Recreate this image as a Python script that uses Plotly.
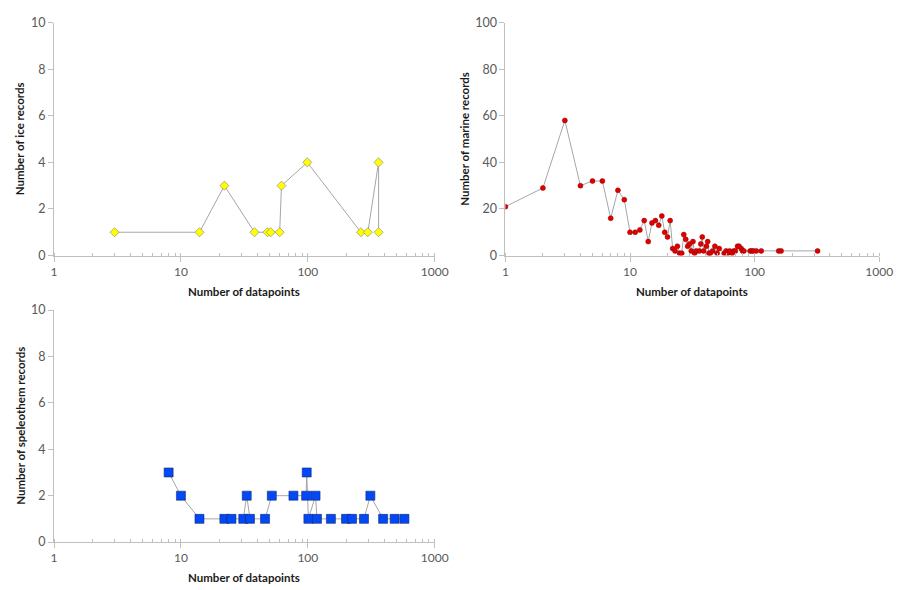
import plotly.graph_objects as go

# ---- data ----
ice_x = [3, 14, 22, 38, 48, 51, 60, 62, 99, 262, 297, 361, 361]
ice_y = [1, 1, 3, 1, 1, 1, 1, 3, 4, 1, 1, 4, 1]

marine_x = [1, 2, 3, 4, 5, 6, 7, 8, 9, 10, 11, 12, 13, 14, 15, 16, 17, 18, 19, 20,
            21, 22, 23, 24, 25, 26, 27, 28, 29, 30, 31, 32, 33, 34, 36, 37, 38, 39,
            41, 42, 43, 44, 46, 48, 50, 52, 57, 59, 61, 63, 66, 68, 70, 73, 75, 78,
            80, 82, 92, 95, 98, 103, 113, 156, 163, 320]
marine_y = [21, 29, 58, 30, 32, 32, 16, 28, 24, 10, 10, 11, 15, 6, 14, 15, 13, 17, 10, 8,
            15, 3, 2, 4, 1, 1, 9, 7, 4, 5, 2, 6, 1, 2, 2, 5, 8, 2,
            4, 6, 1, 1, 2, 4, 1, 3, 1, 2, 1, 2, 1, 2, 2, 4, 4, 3,
            2, 2, 2, 2, 2, 2, 2, 2, 2, 2]

speleo_x = [8, 10, 14, 22, 25, 31, 33, 35, 46, 52, 77, 97, 98, 101, 115, 118, 152,
            200, 223, 277, 311, 392, 483, 577]
speleo_y = [3, 2, 1, 1, 1, 1, 2, 1, 1, 2, 2, 2, 3, 1, 2, 1, 1,
            1, 1, 1, 2, 1, 1, 1]

x_ticks = [1, 10, 100, 1000]
x_title = "Number of datapoints"
y_titles = ["Number of ice records", "Number of marine records", "Number of speleothem records"]

W, H = 906, 590
FONT = "Lato"
LINE = "#a6a6a6"
AXIS = "#bfbfbf"
TICKC = "#595959"

def px_x(a, b):
    return [a / W, b / W]

def px_y(top, bottom):
    return [1 - bottom / H, 1 - top / H]

fig = go.Figure()

fig.add_trace(go.Scatter(x=ice_x, y=ice_y, mode="lines+markers", xaxis="x", yaxis="y",
                         line=dict(color=LINE, width=1),
                         marker=dict(symbol="diamond", size=7, color="#ffff00",
                                     line=dict(color="#808080", width=0.6)),
                         showlegend=False))
fig.add_trace(go.Scatter(x=marine_x, y=marine_y, mode="lines+markers", xaxis="x2", yaxis="y2",
                         line=dict(color=LINE, width=1),
                         marker=dict(symbol="circle", size=5, color="#e00000",
                                     line=dict(color="#900000", width=0.5)),
                         showlegend=False))
fig.add_trace(go.Scatter(x=speleo_x, y=speleo_y, mode="lines+markers", xaxis="x3", yaxis="y3",
                         line=dict(color=LINE, width=1),
                         marker=dict(symbol="square", size=9, color="#0048f8",
                                     line=dict(color="#1a2a6a", width=0.6)),
                         showlegend=False))

def xaxis(domain, anchor):
    return dict(type="log", range=[0, 3], domain=domain, anchor=anchor,
                tickvals=x_ticks, ticktext=[str(v) for v in x_ticks],
                ticks="outside", ticklen=5, tickcolor=AXIS,
                minor=dict(ticks="inside", ticklen=3, tickcolor=AXIS, dtick="D1", showgrid=False),
                showline=True, linecolor=AXIS, linewidth=1, showgrid=False, zeroline=False,
                tickfont=dict(family=FONT, size=12, color=TICKC), fixedrange=True)

def yaxis(domain, anchor, rmax, dt):
    return dict(range=[0, rmax], domain=domain, anchor=anchor, dtick=dt,
                ticks="outside", ticklen=5, tickcolor=AXIS,
                showline=True, linecolor=AXIS, linewidth=1, showgrid=False, zeroline=False,
                tickfont=dict(family=FONT, size=12.5, color=TICKC), fixedrange=True)

dx1 = px_x(52, 440)
dx2 = px_x(512, 893)
dy1 = px_y(15, 254)
dy3 = px_y(310, 548)

fig.update_layout(
    width=W, height=H, margin=dict(l=0, r=0, t=0, b=0),
    paper_bgcolor="white", plot_bgcolor="white",
    xaxis=xaxis(dx1, "y"), yaxis=yaxis(dy1, "x", 10, 2),
    xaxis2=xaxis(dx2, "y2"), yaxis2=yaxis(dy1, "x2", 100, 20),
    xaxis3=xaxis(dx1, "y3"), yaxis3=yaxis(dy3, "x3", 10, 2),
)

tfont = dict(family=FONT, size=11.5, color="#1a1a1a")
ann = []
# x titles
for cx, cy in [(246, 291), (702, 291), (246, 584)]:
    ann.append(dict(text="<b>" + x_title + "</b>", x=cx / W, y=1 - cy / H, xref="paper", yref="paper",
                    showarrow=False, xanchor="center", yanchor="middle", font=tfont))
# y titles
for t, cx, cy in [(y_titles[0], 17, 134), (y_titles[1], 470, 134), (y_titles[2], 17, 429)]:
    ann.append(dict(text="<b>" + t + "</b>", x=cx / W, y=1 - cy / H, xref="paper", yref="paper",
                    showarrow=False, xanchor="center", yanchor="middle", textangle=-90, font=tfont))
fig.update_layout(annotations=ann)

fig.write_html("out.html",
               post_script="document.body.style.margin='0';document.body.style.overflow='hidden';")
